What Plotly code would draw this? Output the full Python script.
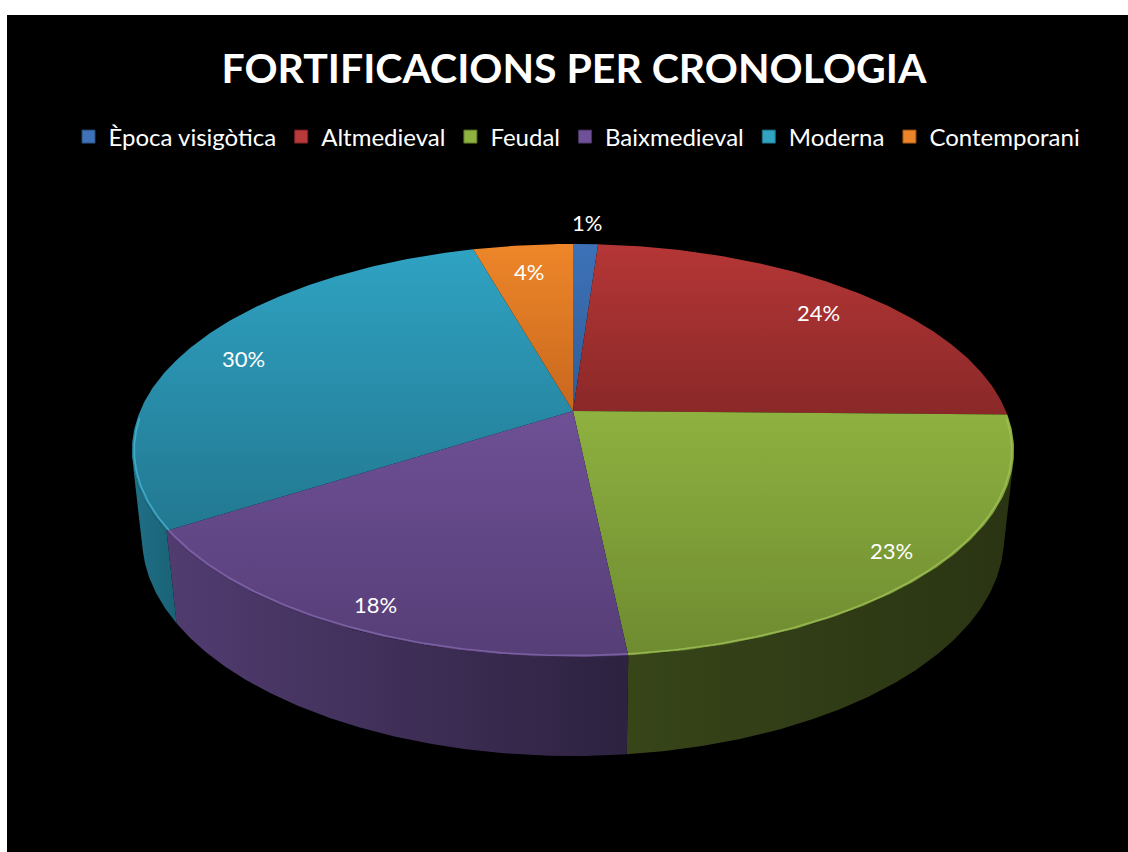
import math
import plotly.graph_objects as go

# ---------------- data ----------------
categories = ["Època visigòtica", "Altmedieval", "Feudal", "Baixmedieval", "Moderna", "Contemporani"]
counts = [1, 22, 21, 16, 27, 4]
title_text = "FORTIFICACIONS PER CRONOLOGIA"

# ---------------- styles ----------------
top_colors = [("#3D72B8", "#2F5C98"),   # blue
              ("#B53636", "#8A2828"),   # red
              ("#8EB140", "#6E8B30"),   # green
              ("#6E5096", "#563E77"),   # purple
              ("#2FA2C2", "#227891"),   # cyan
              ("#EE8629", "#C8681E")]   # orange
wall_colors = [("#2A4A7A", "#213C63"),
               ("#6A1E1E", "#551818"),
               ("#374519", "#2A3413"),
               ("#513C70", "#2D2240"),
               ("#1F7087", "#1A6276"),
               ("#A0561A", "#7F4415")]
rim_colors = ["#5A8ACB", "#C85050", "#A2C25A", "#8468AC", "#4AB5D2", "#F39D55"]
legend_colors = ["#3E73B8", "#B83939", "#8FB340", "#6F5197", "#31A3C3", "#EC8429"]
legend_lines = ["#274A78", "#7A2222", "#5C7428", "#47335F", "#1E6A80", "#9A5418"]

W, H = 1128, 852
FONT = "Lato, Calibri, Carlito, 'Open Sans', sans-serif"

# ---------------- 3D projection (perspective view of the pie cylinder) ----------------
X0, Y0 = 573.0, 411.0      # screen position of pie centre
FOC = 2010.0               # focal scale
DIST = 4.643               # camera distance (pie radius = 1)
SIN_E, COS_E = 0.4596, 0.888   # elevation angle
DEPTH = 0.2286             # pie thickness


def proj(r, theta, yy):
    X = r * math.cos(theta)
    Z = r * math.sin(theta)
    depth = DIST - yy * SIN_E + Z * COS_E
    up = yy * COS_E + Z * SIN_E
    return X0 + FOC * X / depth, Y0 - FOC * up / depth


def alpha_to_theta(a_deg):
    return math.radians(90.0 - a_deg)


total = float(sum(counts))
fracs = [c / total for c in counts]
cum = [0.0]
for f in fracs:
    cum.append(cum[-1] + f)

fig = go.Figure()

# front-facing wall range (in clockwise degrees from 12 o'clock)
lim = math.degrees(math.asin(1.0 / (DIST * COS_E)))
vis_lo, vis_hi = 90.0 + lim, 270.0 - lim


def arc(a1, a2, r, yy, step=0.5):
    n = max(2, int(abs(a2 - a1) / step) + 1)
    pts = [proj(r, alpha_to_theta(a1 + (a2 - a1) * i / (n - 1)), yy) for i in range(n)]
    return pts

# walls
for i in range(len(counts)):
    a1, a2 = cum[i] * 360, cum[i + 1] * 360
    lo, hi = max(a1, vis_lo), min(a2, vis_hi)
    if hi <= lo:
        continue
    topp = arc(lo, hi, 1.0, 0.0)
    botp = arc(hi, lo, 1.0, -DEPTH)
    pts = topp + botp + [topp[0]]
    xs = [p[0] for p in pts]
    ys = [p[1] for p in pts]
    fig.add_trace(go.Scatter(
        x=xs, y=ys, mode="lines", fill="toself", line=dict(width=0),
        fillgradient=dict(type="horizontal", start=min(xs), stop=max(xs),
                          colorscale=[[0, wall_colors[i][0]], [1, wall_colors[i][1]]]),
        hoverinfo="skip", showlegend=False))

# tops
for i in range(len(counts)):
    a1, a2 = cum[i] * 360, cum[i + 1] * 360
    pts = [proj(0, 0, 0.0)] + arc(a1, a2, 1.0, 0.0) + [proj(0, 0, 0.0)]
    xs = [p[0] for p in pts]
    ys = [p[1] for p in pts]
    fig.add_trace(go.Scatter(
        x=xs, y=ys, mode="lines", fill="toself", line=dict(width=0),
        fillgradient=dict(type="vertical", start=min(ys), stop=max(ys),
                          colorscale=[[0, top_colors[i][0]], [1, top_colors[i][1]]]),
        hoverinfo="text", text=f"{categories[i]}: {counts[i]}", showlegend=False))

# rim highlight on the front edge of the top face
for i in range(len(counts)):
    a1, a2 = cum[i] * 360, cum[i + 1] * 360
    lo, hi = max(a1, vis_lo - 12), min(a2, vis_hi + 12)
    if hi <= lo:
        continue
    pts = arc(lo, hi, 0.995, 0.0)
    fig.add_trace(go.Scatter(
        x=[p[0] for p in pts], y=[p[1] for p in pts], mode="lines",
        line=dict(color=rim_colors[i], width=1.6), opacity=0.8,
        hoverinfo="skip", showlegend=False))

# legend entries
for i, name in enumerate(categories):
    fig.add_trace(go.Scatter(
        x=[None], y=[None], mode="markers", name=name,
        marker=dict(symbol="square", size=13, color=legend_colors[i],
                    line=dict(color=legend_lines[i], width=1)),
        showlegend=True))

# data labels
far = proj(1.0, math.pi / 2, 0.0)
near = proj(1.0, -math.pi / 2, 0.0)
ex, ey = (far[0] + near[0]) / 2, (far[1] + near[1]) / 2
for i in range(len(counts)):
    amid = (cum[i] + cum[i + 1]) / 2 * 360
    rx, ry = proj(1.0, alpha_to_theta(amid), 0.0)
    k = 1.105 if fracs[i] < 0.02 else 0.87
    lx, ly = ex + k * (rx - ex), ey + k * (ry - ey)
    fig.add_annotation(x=lx, y=ly, text=f"{round(fracs[i] * 100)}%", showarrow=False,
                       font=dict(family=FONT, size=22, color="white"),
                       xanchor="center", yanchor="middle")

fig.add_shape(type="rect", x0=7, y0=15, x1=W, y1=H, xref="x", yref="y",
              fillcolor="black", line=dict(width=0), layer="below")

fig.update_layout(
    width=W, height=H,
    margin=dict(l=0, r=0, t=0, b=0),
    paper_bgcolor="white", plot_bgcolor="white",
    title=dict(text=f"<b>{title_text}</b>", x=574 / W, xanchor="center",
               y=1 - 69 / H, yanchor="middle",
               font=dict(family=FONT, size=41, color="white")),
    xaxis=dict(range=[0, W], visible=False, fixedrange=True),
    yaxis=dict(range=[H, 0], visible=False, fixedrange=True),
    legend=dict(orientation="h", x=577 / W, xanchor="center", y=1 - 137 / H,
                yanchor="middle", bgcolor="rgba(0,0,0,0)",
                font=dict(family=FONT, size=24, color="white"),
                itemwidth=30, tracegroupgap=0),
    showlegend=True,
    hovermode="closest",
)

fig.write_html("out.html", post_script="document.body.style.margin='0px';",
               config={"displayModeBar": False})
